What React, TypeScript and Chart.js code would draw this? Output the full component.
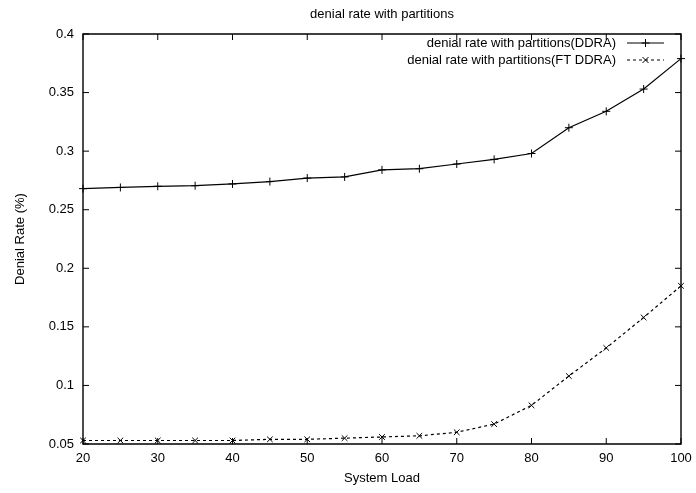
import React, { useEffect, useRef } from 'react';
import { Chart, registerables } from 'chart.js';

Chart.register(...registerables);

const chartTitle = 'denial rate with partitions';
const xAxisTitle = 'System Load';
const yAxisTitle = 'Denial Rate (%)';
const seriesLabels = ['denial rate with partitions(DDRA)', 'denial rate with partitions(FT DDRA)'];

const systemLoad = [20, 25, 30, 35, 40, 45, 50, 55, 60, 65, 70, 75, 80, 85, 90, 95, 100];
const ddra = [0.268, 0.269, 0.27, 0.2705, 0.272, 0.274, 0.277, 0.278, 0.284, 0.285, 0.289, 0.293, 0.298, 0.32, 0.334, 0.353, 0.379];
const ftDdra = [0.053, 0.053, 0.053, 0.053, 0.053, 0.054, 0.054, 0.055, 0.056, 0.057, 0.06, 0.067, 0.083, 0.108, 0.132, 0.158, 0.185];

const xTicks = [20, 30, 40, 50, 60, 70, 80, 90, 100];
const yTicks = [0.05, 0.1, 0.15, 0.2, 0.25, 0.3, 0.35, 0.4];

const FONT = "'Liberation Sans', Arial, Helvetica, sans-serif";

const framePlugin = {
  id: 'gnuplotFrame',
  afterDatasetsDraw(chart: any) {
    const { ctx, chartArea } = chart;
    const { left, right, top, bottom } = chartArea;
    const xs = chart.scales.x;
    const ys = chart.scales.y;
    const len = 6;
    ctx.save();
    ctx.strokeStyle = '#000';
    ctx.lineWidth = 1.4;
    ctx.setLineDash([]);
    ctx.beginPath();
    ctx.rect(left, top, right - left, bottom - top);
    ctx.stroke();
    ctx.lineWidth = 1;
    ctx.beginPath();
    xs.ticks.forEach((t: any) => {
      const px = xs.getPixelForValue(t.value);
      ctx.moveTo(px, bottom);
      ctx.lineTo(px, bottom - len);
      ctx.moveTo(px, top);
      ctx.lineTo(px, top + len);
    });
    ys.ticks.forEach((t: any) => {
      const py = ys.getPixelForValue(t.value);
      ctx.moveTo(left, py);
      ctx.lineTo(left + len, py);
      ctx.moveTo(right, py);
      ctx.lineTo(right - len, py);
    });
    ctx.stroke();
    ctx.restore();
  },
  afterDraw(chart: any) {
    const { ctx, chartArea } = chart;
    ctx.save();
    ctx.fillStyle = '#000';
    ctx.font = `13px ${FONT}`;
    ctx.textAlign = 'center';
    ctx.textBaseline = 'middle';
    ctx.fillText(chartTitle, (chartArea.left + chartArea.right) / 2, 14);

    // legend inside plot, top right
    chart.data.datasets.forEach((ds: any, i: number) => {
      const y = chartArea.top + 9 + i * 17;
      const textRight = chartArea.right - 65;
      const x0 = chartArea.right - 54;
      const x1 = chartArea.right - 17;
      ctx.textAlign = 'right';
      ctx.fillStyle = '#000';
      ctx.fillText(ds.label, textRight, y);
      ctx.strokeStyle = '#000';
      ctx.lineWidth = 1.2;
      ctx.setLineDash(ds.borderDash || []);
      ctx.beginPath();
      ctx.moveTo(x0, y);
      ctx.lineTo(x1, y);
      ctx.stroke();
      ctx.setLineDash([]);
      ctx.lineWidth = 1;
      const cx = (x0 + x1) / 2;
      const r = ds.pointRadius;
      ctx.beginPath();
      if (ds.pointStyle === 'cross') {
        ctx.moveTo(cx - r, y);
        ctx.lineTo(cx + r, y);
        ctx.moveTo(cx, y - r);
        ctx.lineTo(cx, y + r);
      } else {
        const d = r * 0.75;
        ctx.moveTo(cx - d, y - d);
        ctx.lineTo(cx + d, y + d);
        ctx.moveTo(cx - d, y + d);
        ctx.lineTo(cx + d, y - d);
      }
      ctx.stroke();
    });
    ctx.restore();
  },
};

export default function App() {
  const ref = useRef<HTMLCanvasElement | null>(null);
  useEffect(() => {
    if (!ref.current) return;
    const chart = new Chart(ref.current, {
      type: 'line',
      data: {
        datasets: [
          {
            label: seriesLabels[0],
            data: systemLoad.map((x, i) => ({ x, y: ddra[i] })),
            borderColor: '#000',
            backgroundColor: '#000',
            borderWidth: 1.2,
            pointStyle: 'cross',
            pointRadius: 4,
            pointBorderWidth: 1,
            pointBorderColor: '#000',
            tension: 0,
            clip: false as any,
          },
          {
            label: seriesLabels[1],
            data: systemLoad.map((x, i) => ({ x, y: ftDdra[i] })),
            borderColor: '#000',
            backgroundColor: '#000',
            borderWidth: 1.2,
            borderDash: [3, 3],
            pointStyle: 'crossRot',
            pointRadius: 4,
            pointBorderWidth: 1,
            pointBorderColor: '#000',
            tension: 0,
            clip: false as any,
          },
        ],
      },
      options: {
        animation: false,
        responsive: false,
        layout: { padding: { top: 34, right: 15, left: 0, bottom: 0 } },
        plugins: {
          legend: { display: false },
          title: { display: false },
          tooltip: { enabled: false },
        },
        scales: {
          x: {
            type: 'linear',
            min: 20,
            max: 100,
            afterBuildTicks: (s: any) => {
              s.ticks = xTicks.map((v) => ({ value: v }));
            },
            afterFit: (s: any) => {
              s.height = 49;
              s.paddingLeft = 0;
              s.paddingRight = 0;
            },
            grid: { display: false, drawTicks: false },
            border: { display: false },
            ticks: {
              color: '#000',
              font: { family: FONT, size: 13 },
              padding: 7,
              maxRotation: 0,
              callback: (v: any) => String(v),
            },
            title: {
              display: true,
              text: xAxisTitle,
              color: '#000',
              font: { family: FONT, size: 13 },
              padding: { top: 0, bottom: 7 },
            },
          },
          y: {
            type: 'linear',
            min: 0.05,
            max: 0.4,
            afterBuildTicks: (s: any) => {
              s.ticks = yTicks.map((v) => ({ value: v }));
            },
            afterFit: (s: any) => {
              s.width = 83;
              s.paddingTop = 0;
              s.paddingBottom = 0;
            },
            grid: { display: false, drawTicks: false },
            border: { display: false },
            ticks: {
              color: '#000',
              font: { family: FONT, size: 13 },
              padding: 9,
              callback: (v: any) => String(Number(Number(v).toFixed(2))),
            },
            title: {
              display: true,
              text: yAxisTitle,
              color: '#000',
              font: { family: FONT, size: 13 },
              padding: { top: 13, bottom: 0 },
            },
          },
        },
      },
      plugins: [framePlugin],
    });
    return () => chart.destroy();
  }, []);
  return (
    <div style={{ position: 'absolute', left: 0, top: 0, width: 696, height: 493, background: '#fff' }}>
      <canvas ref={ref} width={696} height={493} style={{ width: 696, height: 493, display: 'block' }} />
    </div>
  );
}
